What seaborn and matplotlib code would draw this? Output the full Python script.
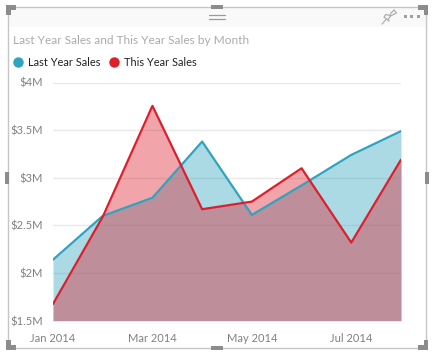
import matplotlib
matplotlib.use('Agg')
import matplotlib.pyplot as plt
import seaborn as sns
import pandas as pd
from matplotlib.lines import Line2D
from matplotlib.patches import Rectangle

months = ['Jan 2014', 'Feb 2014', 'Mar 2014', 'Apr 2014', 'May 2014', 'Jun 2014', 'Jul 2014', 'Aug 2014']
last_year = [2.14, 2.60, 2.79, 3.38, 2.61, 2.92, 3.24, 3.49]
this_year = [1.675, 2.59, 3.755, 2.67, 2.75, 3.10, 2.32, 3.19]
y_ticks = [1.5, 2, 2.5, 3, 3.5, 4]
y_labels = ['$1.5M', '$2M', '$2.5M', '$3M', '$3.5M', '$4M']
x_ticks = ['Jan 2014', 'Mar 2014', 'May 2014', 'Jul 2014']

W, H = 434, 356
blue = '#2FA3BF'
red = '#DD1F2D'

sns.set_theme(style='white')
plt.rcParams['font.family'] = ['Lato', 'DejaVu Sans']

df = pd.DataFrame({'month': months, 'pos': range(len(months)), 'last': last_year, 'this': this_year})

fig = plt.figure(figsize=(W / 100, H / 100), dpi=100)
fig.patch.set_facecolor('white')


def box(x0, y0, x1, y1, **kw):
    # pixel coords from top left
    fig.add_artist(Rectangle((x0 / W, 1 - y1 / H), (x1 - x0) / W, (y1 - y0) / H,
                             transform=fig.transFigure, **kw))


def pix_line(xs, ys, **kw):
    fig.add_artist(Line2D([x / W for x in xs], [1 - y / H for y in ys], transform=fig.transFigure, **kw))


# header band and frame
box(8, 6.5, 426, 27, facecolor='#F9F9F9', edgecolor='none')
box(7.5, 6.5, 426, 348, facecolor='none', edgecolor='#C6C6C6', linewidth=1)

# resize handles
grey = '#8C8C8C'
box(6, 5, 16, 9.5, facecolor=grey, edgecolor='none')
box(6, 5, 10.5, 15, facecolor=grey, edgecolor='none')
box(418, 5, 428, 9.5, facecolor=grey, edgecolor='none')
box(423.5, 5, 428, 15, facecolor=grey, edgecolor='none')
box(6, 345, 16, 350, facecolor=grey, edgecolor='none')
box(6, 340, 10.5, 350, facecolor=grey, edgecolor='none')
box(418, 345, 428, 350, facecolor=grey, edgecolor='none')
box(423.5, 340, 428, 350, facecolor=grey, edgecolor='none')
box(211, 5, 223, 9, facecolor=grey, edgecolor='none')
box(211, 346, 223, 350, facecolor=grey, edgecolor='none')
box(4.5, 172, 8.5, 184, facecolor=grey, edgecolor='none')
box(425, 172, 429, 184, facecolor=grey, edgecolor='none')

# grip, pin, dots
pix_line([209, 225], [14.5, 14.5], color='#9A9A9A', linewidth=0.9)
pix_line([209, 225], [18.5, 18.5], color='#9A9A9A', linewidth=0.9)
pix_line([382, 386.5], [24, 19], color='#B0B0B0', linewidth=0.9)
pix_line([386, 390, 391, 394, 396.5, 390.5, 388, 389, 384, 386],
         [14.5, 15.5, 13, 10, 13, 16, 19.5, 21, 17, 14.5], color='#B0B0B0', linewidth=0.9)
for x in [405, 411.5, 418]:
    box(x - 1.5, 15.5, x + 1.5, 17.5, facecolor='#A0A0A0', edgecolor='none')

ax = fig.add_axes([53 / W, 1 - 320.7 / H, (401 - 53) / W, (320.7 - 82.5) / H])
ax.set_facecolor('none')

ax.fill_between(df['pos'], 1.5, df['last'], color=blue, alpha=0.4, linewidth=0, zorder=2)
ax.fill_between(df['pos'], 1.5, df['this'], color=red, alpha=0.4, linewidth=0, zorder=3)
sns.lineplot(data=df, x='pos', y='last', color=blue, linewidth=1.6, ax=ax, zorder=4)
sns.lineplot(data=df, x='pos', y='this', color=red, linewidth=1.6, ax=ax, zorder=5)

ax.set_xlim(0, len(months) - 1)
ax.set_ylim(1.5, 4)
ax.set_xlabel('')
ax.set_ylabel('')
ax.set_xticks([months.index(m) for m in x_ticks])
ax.set_xticklabels(x_ticks, fontsize=8.0, color='#808080')
ax.tick_params(axis='both', length=0)
ax.set_yticks(y_ticks)
ax.set_yticklabels(y_labels, fontsize=8.0, color='#808080')
ax.tick_params(axis='x', pad=9)
ax.tick_params(axis='y', pad=7)
ax.grid(axis='y', color='#E9E9E9', linewidth=1)
ax.set_axisbelow(True)
sns.despine(ax=ax, left=True, bottom=True)

fig.text(13 / W, 1 - 40 / H, 'Last Year Sales and This Year Sales by Month', fontsize=8.6,
         color='#ABABAB', ha='left', va='center')

# legend drawn by hand so it lines up
legend_items = [(18, 28, 'Last Year Sales', blue), (114, 124, 'This Year Sales', red)]
for mx, tx, label, col in legend_items:
    fig.add_artist(Line2D([mx / W], [1 - 62 / H], linestyle='none', marker='o', markersize=7.5,
                          markeredgewidth=0, color=col, transform=fig.transFigure))
    fig.text(tx / W, 1 - 62 / H, label, fontsize=7.9, color='#222222', ha='left', va='center')

fig.savefig('out.png', dpi=100)
